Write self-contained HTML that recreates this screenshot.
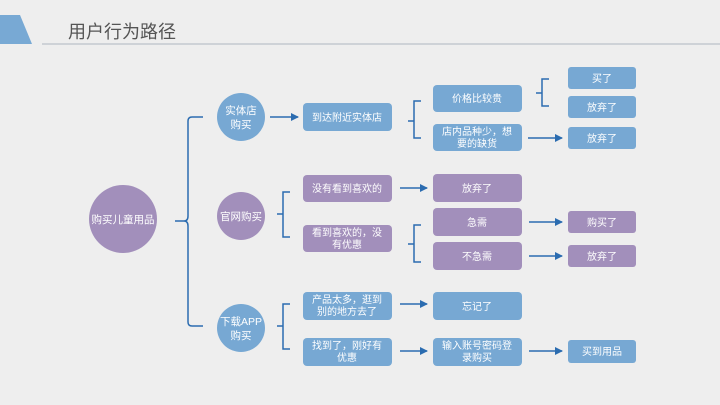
<!DOCTYPE html>
<html><head><meta charset="utf-8"><style>
html,body{margin:0;padding:0;background:#eeeeee;}
svg{display:block;font-family:"Liberation Sans","Noto Sans CJK SC",sans-serif;}
</style></head><body>
<svg width="720" height="405" viewBox="0 0 720 405" xmlns="http://www.w3.org/2000/svg">
<defs>
<marker id="a" markerWidth="8" markerHeight="8" refX="7" refY="4" orient="auto" markerUnits="userSpaceOnUse"><path d="M0,0 L8,4 L0,8 Z" fill="#2b6cb0"/></marker>
</defs>
<rect width="720" height="405" fill="#eeeeee"/>
<polygon points="0,15 20,15 32,44 0,44" fill="#78a9d4"/>
<line x1="42" y1="44" x2="720" y2="44" stroke="#c4c8cf" stroke-width="1.5"/>
<text x="68" y="38" font-size="18" fill="#555">用户行为路径</text>

<g fill="none" stroke="#2b6cb0" stroke-width="1.5">
<path d="M203,117 H192 Q188,117 188,121 V216 Q188,221 184,221 H175 M184,221 Q188,221 188,226 V322 Q188,326 192,326 H203"/>
<path d="M421,101 H414 V138 H421 M414,121 H408"/>
<path d="M549,79 H542 V106 H549 M542,93 H536"/>
<path d="M290,192 H283 V237 H290 M283,214 H277"/>
<path d="M421,225 H414 V262 H421 M414,244 H408"/>
<path d="M290,304 H283 V349 H290 M283,326 H277"/>
<line x1="270" y1="117" x2="298" y2="117" marker-end="url(#a)"/>
<line x1="528" y1="138" x2="562" y2="138" marker-end="url(#a)"/>
<line x1="400" y1="188" x2="427" y2="188" marker-end="url(#a)"/>
<line x1="529" y1="222" x2="562" y2="222" marker-end="url(#a)"/>
<line x1="529" y1="256" x2="562" y2="256" marker-end="url(#a)"/>
<line x1="400" y1="304" x2="427" y2="304" marker-end="url(#a)"/>
<line x1="400" y1="351" x2="427" y2="351" marker-end="url(#a)"/>
<line x1="529" y1="351" x2="562" y2="351" marker-end="url(#a)"/>
</g>

<g>
<circle cx="123" cy="219" r="34" fill="#a28fbb"/>
<circle cx="241" cy="117" r="24" fill="#77a8d3"/>
<circle cx="241" cy="216" r="24" fill="#a28fbb"/>
<circle cx="241" cy="328" r="24" fill="#77a8d3"/>
</g>
<g font-size="10.5" fill="#fff" text-anchor="middle">
<text x="123" y="223">购买儿童用品</text>
<text x="241" y="114">实体店</text><text x="241" y="128">购买</text>
<text x="241" y="220">官网购买</text>
<text x="241" y="325">下载APP</text><text x="241" y="339">购买</text>
</g>

<g fill="#77a8d3">
<rect x="303" y="103" width="89" height="28" rx="4"/>
<rect x="433" y="85" width="89" height="27" rx="4"/>
<rect x="433" y="124" width="89" height="27" rx="4"/>
<rect x="568" y="67" width="68" height="22" rx="3"/>
<rect x="568" y="96" width="68" height="22" rx="3"/>
<rect x="568" y="127" width="68" height="22" rx="3"/>
<rect x="303" y="292" width="89" height="28" rx="4"/>
<rect x="303" y="338" width="89" height="28" rx="4"/>
<rect x="433" y="292" width="89" height="28" rx="4"/>
<rect x="433" y="338" width="89" height="28" rx="4"/>
<rect x="568" y="340" width="68" height="23" rx="3"/>
</g>
<g fill="#a28fbb">
<rect x="303" y="175" width="89" height="27" rx="4"/>
<rect x="303" y="225" width="89" height="27" rx="4"/>
<rect x="433" y="174" width="89" height="28" rx="4"/>
<rect x="433" y="208" width="89" height="28" rx="4"/>
<rect x="433" y="242" width="89" height="28" rx="4"/>
<rect x="568" y="211" width="68" height="22" rx="3"/>
<rect x="568" y="245" width="68" height="22" rx="3"/>
</g>
<g font-size="10" fill="#fff" text-anchor="middle">
<text x="347" y="121">到达附近实体店</text>
<text x="477" y="102">价格比较贵</text>
<text x="477" y="135">店内品种少，想</text><text x="477" y="147">要的缺货</text>
<text x="602" y="82">买了</text>
<text x="602" y="111">放弃了</text>
<text x="602" y="142">放弃了</text>
<text x="347" y="192">没有看到喜欢的</text>
<text x="347" y="236">看到喜欢的，没</text><text x="347" y="248">有优惠</text>
<text x="477" y="192">放弃了</text>
<text x="477" y="226">急需</text>
<text x="477" y="260">不急需</text>
<text x="602" y="226">购买了</text>
<text x="602" y="260">放弃了</text>
<text x="347" y="303">产品太多，逛到</text><text x="347" y="315">别的地方去了</text>
<text x="347" y="349">找到了，刚好有</text><text x="347" y="361">优惠</text>
<text x="477" y="310">忘记了</text>
<text x="477" y="349">输入账号密码登</text><text x="477" y="361">录购买</text>
<text x="602" y="355">买到用品</text>
</g>
</svg>
</body></html>
